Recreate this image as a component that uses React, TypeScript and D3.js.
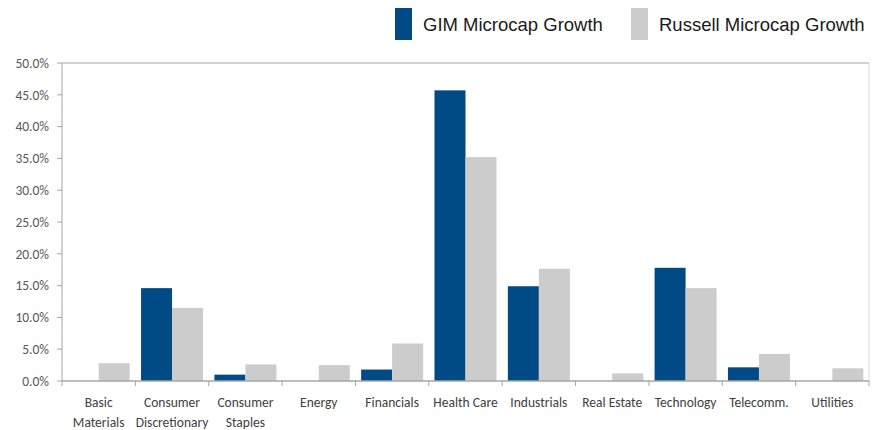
import React from "react";
import * as d3 from "d3";

const categories: string[][] = [
  ["Basic", "Materials"],
  ["Consumer", "Discretionary"],
  ["Consumer", "Staples"],
  ["Energy"],
  ["Financials"],
  ["Health Care"],
  ["Industrials"],
  ["Real Estate"],
  ["Technology"],
  ["Telecomm."],
  ["Utilities"],
];
const gimValues = [0, 14.6, 1.0, 0, 1.8, 45.7, 14.9, 0, 17.8, 2.15, 0];
const russellValues = [2.8, 11.5, 2.6, 2.5, 5.9, 35.2, 17.65, 1.2, 14.6, 4.25, 2.0];
const seriesNames = ["GIM Microcap Growth", "Russell Microcap Growth"];
const seriesColors = ["#004A86", "#CDCCCD"];
const yTicks = [0, 5, 10, 15, 20, 25, 30, 35, 40, 45, 50];

export default function App() {
  const W = 873, H = 430;
  const left = 62, right = 869, top = 63, bottom = 381;
  const keys = categories.map((_, i) => String(i));
  const x = d3.scaleBand<string>().domain(keys).range([left, right]).paddingInner(0).paddingOuter(0);
  const inner = d3.scaleBand<string>().domain(["0", "1"]).range([0, x.bandwidth()]).paddingOuter(0.183).paddingInner(0);
  const y = d3.scaleLinear().domain([0, 50]).range([bottom, top]);
  const series = [gimValues, russellValues];
  const fmt = (v: number) => v.toFixed(1) + "%";
  const labelFont = "Carlito, Lato, sans-serif";

  return (
    <svg width={W} height={H} style={{ position: "absolute", left: 0, top: 0, background: "#fff" }}>
      <line x1={left} x2={right} y1={top} y2={top} stroke="#A6A6A6" strokeWidth={1} />
      <line x1={right} x2={right} y1={top} y2={bottom} stroke="#D9D9D9" strokeWidth={1} />
      {series.map((vals, s) =>
        vals.map((v, i) =>
          v > 0 ? (
            <rect
              key={`${s}-${i}`}
              x={(x(String(i)) as number) + (inner(String(s)) as number)}
              y={y(v)}
              width={inner.bandwidth()}
              height={bottom - y(v)}
              fill={seriesColors[s]}
            />
          ) : null
        )
      )}
      <line x1={left} x2={left} y1={top} y2={bottom} stroke="#A6A6A6" strokeWidth={1} />
      {yTicks.map((t) => (
        <g key={t}>
          <line x1={left - 5} x2={left} y1={y(t)} y2={y(t)} stroke="#A6A6A6" />
          <text x={left - 13} y={y(t)} dy="0.35em" textAnchor="end" fontFamily={labelFont} fontSize={13.5} fill="#595959">
            {fmt(t)}
          </text>
        </g>
      ))}
      <line x1={left} x2={right} y1={bottom} y2={bottom} stroke="#A6A6A6" strokeWidth={1.5} />
      {keys.concat([String(keys.length)]).map((k, i) => {
        const xx = i < keys.length ? (x(k) as number) : right;
        return <line key={k} x1={xx} x2={xx} y1={bottom} y2={bottom + 5} stroke="#A6A6A6" />;
      })}
      {categories.map((lines, i) => (
        <text key={i} textAnchor="middle" fontFamily={labelFont} fontSize={13.5} fill="#404040">
          {lines.map((ln, j) => (
            <tspan key={j} x={(x(String(i)) as number) + x.bandwidth() / 2} y={402 + j * 20} dy="0.35em">
              {ln}
            </tspan>
          ))}
        </text>
      ))}
      {seriesNames.map((name, s) => {
        const sx = s === 0 ? 395 : 631;
        return (
          <g key={name}>
            <rect x={sx} y={8} width={17} height={32} fill={seriesColors[s]} />
            <text x={sx + 28} y={25} dy="0.35em" fontFamily="'Liberation Sans', Arial, sans-serif" fontSize={18.5} fill="#1a1a1a">
              {name}
            </text>
          </g>
        );
      })}
    </svg>
  );
}
